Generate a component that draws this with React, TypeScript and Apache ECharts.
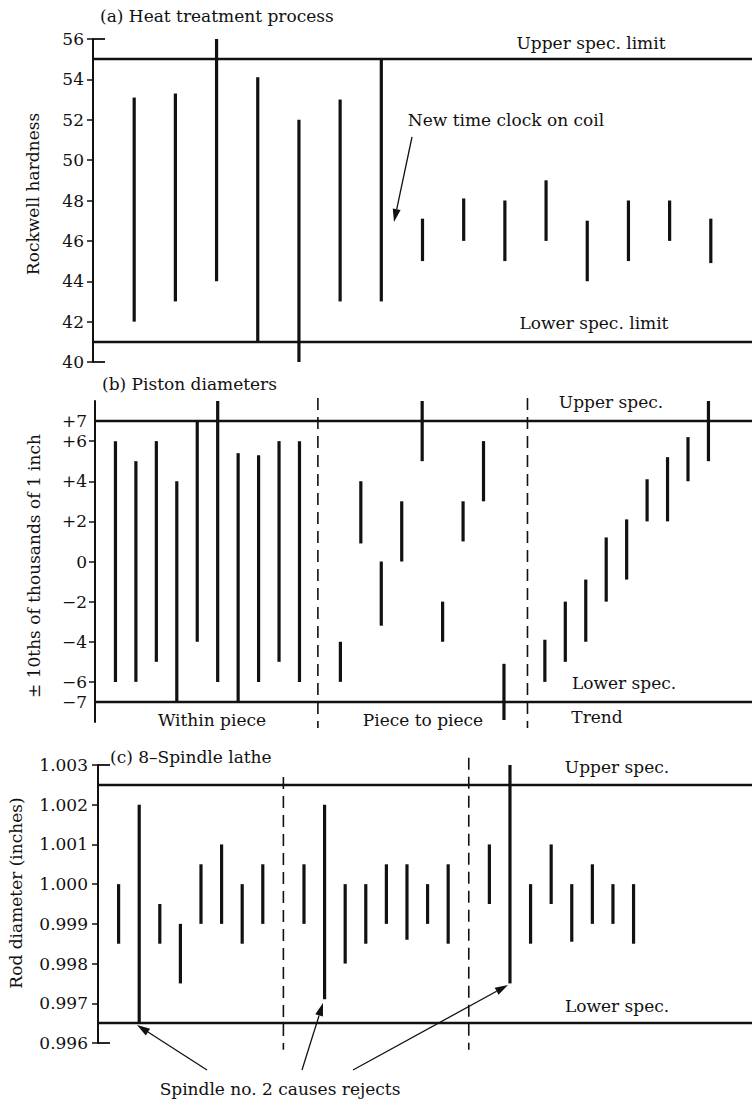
import React, { useEffect, useRef } from 'react';
import * as echarts from 'echarts';

// ---------- data ----------
// (a) Heat treatment process — Rockwell hardness ranges per sample
const heatSamples = [1, 2, 3, 4, 5, 6, 7, 8, 9, 10, 11, 12, 13, 14, 15];
const heatLow = [42, 43, 44, 41, 40, 43, 43, 45, 46, 45, 46, 44, 45, 46, 44.9];
const heatHigh = [53.1, 53.3, 56, 54.1, 52, 53, 55, 47.1, 48.1, 48, 49, 47, 48, 48, 47.1];
const heatSpec = [55, 41];
const heatFrame = [56, 40];

// (b) Piston diameters — ± 10ths of thousands of 1 inch
const pistonSamples = [1, 2, 3, 4, 5, 6, 7, 8, 9, 10, 12, 13, 14, 15, 16, 17, 18, 19, 20, 22, 23, 24, 25, 26, 27, 28, 29, 30];
const pistonLow = [-6, -6, -5, -7, -4, -6, -7, -6, -5, -6, -6, 0.9, -3.2, 0, 5, -4, 1, 3, -7.9, -6, -5, -4, -2, -0.9, 2, 2, 4, 5];
const pistonHigh = [6, 5, 6, 4, 7, 8, 5.4, 5.3, 6, 6, -4, 4, 0, 3, 8, -2, 3, 6, -5.1, -3.9, -2, -0.9, 1.2, 2.1, 4.1, 5.2, 6.2, 8];
const pistonSpec = [7, -7];
const pistonDividers = [10.9, 21.15];
const pistonLabelTicks = [-7, -6, -4, -2, 0, 2, 4, 6, 7];
const pistonTickMarks = [-6, -4, -2, 0, 2, 4, 6];
const pistonSections = ['Within piece', 'Piece to piece', 'Trend'];

// (c) 8-Spindle lathe — rod diameter (inches)
const latheSamples = [1, 2, 3, 4, 5, 6, 7, 8, 10, 11, 12, 13, 14, 15, 16, 17, 19, 20, 21, 22, 23, 24, 25, 26];
const latheLow = [0.9985, 0.9965, 0.9985, 0.9975, 0.999, 0.999, 0.9985, 0.999, 0.999, 0.9971, 0.998, 0.9985, 0.999, 0.9986, 0.999, 0.9985, 0.9995, 0.9975, 0.9985, 0.9995, 0.99855, 0.999, 0.999, 0.9985];
const latheHigh = [1.0, 1.002, 0.9995, 0.999, 1.0005, 1.001, 1.0, 1.0005, 1.0005, 1.002, 1.0, 1.0, 1.0005, 1.0005, 1.0, 1.0005, 1.001, 1.003, 1.0, 1.001, 1.0, 1.0005, 1.0, 1.0];
const latheSpec = [1.0025, 0.9965];
const latheFrame = [1.003, 0.996];
const latheDividers = [9, 18];
const latheTicks = [0.996, 0.997, 0.998, 0.999, 1.0, 1.001, 1.002, 1.003];

// ---------- style ----------
const INK = '#111';
const FONT = 'DejaVu Serif';
const FS = 17;

function rangeSeries(idx: number, xs: number[], lows: number[], highs: number[], specs: number[]) {
  return {
    type: 'custom',
    xAxisIndex: idx,
    yAxisIndex: idx,
    clip: false,
    silent: true,
    data: xs.map((x, i) => [x, lows[i], highs[i]]),
    renderItem: (_p: any, api: any) => {
      const a = api.coord([api.value(0), api.value(1)]);
      const b = api.coord([api.value(0), api.value(2)]);
      return {
        type: 'line',
        shape: { x1: a[0], y1: a[1], x2: b[0], y2: b[1] },
        style: { stroke: INK, lineWidth: 3.2 },
      };
    },
    markLine: {
      silent: true,
      precision: 6,
      symbol: ['none', 'none'],
      label: { show: false },
      lineStyle: { color: INK, width: 2.4, type: 'solid' },
      data: specs.map((v) => ({ yAxis: v })),
    },
  };
}

// short inward "feet" at the ends of the vertical axis
function frameSeries(idx: number, ys: number[]) {
  return {
    type: 'custom',
    xAxisIndex: idx,
    yAxisIndex: idx,
    clip: false,
    silent: true,
    data: ys.map((y) => [0, y]),
    renderItem: (_p: any, api: any) => {
      const a = api.coord([api.value(0), api.value(1)]);
      return {
        type: 'line',
        shape: { x1: a[0], y1: a[1], x2: a[0] + 12, y2: a[1] },
        style: { stroke: INK, lineWidth: 1.8 },
      };
    },
  };
}

function dividerSeries(idx: number, xs: number[], top: number, bottom: number) {
  return {
    type: 'custom',
    xAxisIndex: idx,
    yAxisIndex: idx,
    clip: false,
    silent: true,
    data: xs.map((x) => [x, top, bottom]),
    renderItem: (_p: any, api: any) => {
      const a = api.coord([api.value(0), api.value(1)]);
      const b = api.coord([api.value(0), api.value(2)]);
      return {
        type: 'line',
        shape: { x1: a[0], y1: a[1], x2: b[0], y2: b[1] },
        style: { stroke: INK, lineWidth: 1.6, lineDash: [12, 7] },
      };
    },
  };
}

function yAxisBase(grid: number, min: number, max: number, margin: number) {
  return {
    gridIndex: grid,
    type: 'value',
    min,
    max,
    axisLine: { show: true, onZero: false, lineStyle: { color: INK, width: 2 } },
    axisTick: { show: true, length: 6, lineStyle: { color: INK, width: 1.5 } },
    axisLabel: { color: INK, fontFamily: FONT, fontSize: FS, margin },
    splitLine: { show: false },
  };
}

function txt(text: string, x: number, y: number, align = 'center', rot = 0) {
  return {
    type: 'text',
    x,
    y,
    rotation: rot,
    silent: true,
    style: {
      text,
      x: 0,
      y: 0,
      fill: INK,
      fontFamily: FONT,
      fontSize: FS,
      textAlign: align,
      textVerticalAlign: 'middle',
    },
  };
}

function arrow(x1: number, y1: number, x2: number, y2: number) {
  const head = 13;
  const half = 4;
  const dx = x2 - x1;
  const dy = y2 - y1;
  const L = Math.hypot(dx, dy);
  const ux = dx / L;
  const uy = dy / L;
  const bx = x2 - ux * head;
  const by = y2 - uy * head;
  return [
    { type: 'line', silent: true, shape: { x1, y1, x2: bx, y2: by }, style: { stroke: INK, lineWidth: 1.3 } },
    {
      type: 'polygon',
      silent: true,
      shape: { points: [[x2, y2], [bx - uy * half, by + ux * half], [bx + uy * half, by - ux * half]] },
      style: { fill: INK },
    },
  ];
}

const signed = (v: number) => (v > 0 ? '+' + v : v < 0 ? '\u2212' + Math.abs(v) : '0');

export default function App() {
  const ref = useRef<HTMLDivElement>(null);

  useEffect(() => {
    if (!ref.current) return;
    const chart = echarts.init(ref.current, undefined, { renderer: 'svg' });

    const option: any = {
      animation: false,
      backgroundColor: '#fff',
      grid: [
        { left: 93, top: 39, right: 4, height: 323 },
        { left: 95, top: 401, right: 4, height: 321 },
        { left: 98, top: 765, right: 4, height: 278 },
      ],
      xAxis: [
        { gridIndex: 0, type: 'value', min: 0, max: 16, show: false },
        { gridIndex: 1, type: 'value', min: 0, max: 32.13, show: false },
        { gridIndex: 2, type: 'value', min: 0, max: 31.75, show: false },
      ],
      yAxis: [
        { ...yAxisBase(0, 40, 56, 9), interval: 2 },
        {
          ...yAxisBase(1, -8, 8, 8),
          axisTick: { show: true, length: 6, lineStyle: { color: INK, width: 1.5 }, customValues: pistonTickMarks },
          axisLabel: { color: INK, fontFamily: FONT, fontSize: FS, margin: 8, customValues: pistonLabelTicks, formatter: signed },
        },
        {
          ...yAxisBase(2, 0.996, 1.003, 10),
          axisTick: { show: true, length: 6, lineStyle: { color: INK, width: 1.5 }, customValues: latheTicks },
          axisLabel: {
            color: INK,
            fontFamily: FONT,
            fontSize: FS,
            margin: 10,
            customValues: latheTicks,
            formatter: (v: number) => v.toFixed(3),
          },
        },
      ],
      series: [
        rangeSeries(0, heatSamples, heatLow, heatHigh, heatSpec),
        frameSeries(0, heatFrame),
        rangeSeries(1, pistonSamples, pistonLow, pistonHigh, pistonSpec),
        dividerSeries(1, pistonDividers, 8.15, -8.3),
        rangeSeries(2, latheSamples, latheLow, latheHigh, latheSpec),
        frameSeries(2, latheFrame),
        dividerSeries(2, [latheDividers[0]], 1.0027, 0.99583),
        dividerSeries(2, [latheDividers[1]], 1.00318, 0.99583),
      ],
      graphic: {
        elements: [
          // (a)
          txt('(a) Heat treatment process', 100, 16, 'left'),
          txt('Rockwell hardness', 33, 194, 'center', Math.PI / 2),
          txt('Upper spec. limit', 591, 43),
          txt('Lower spec. limit', 594, 323),
          txt('New time clock on coil', 506, 120),
          ...arrow(412, 137, 394, 222),
          // (b)
          txt('(b) Piston diameters', 102, 384, 'left'),
          txt('\u00b1 10ths of thousands of 1 inch', 34, 566, 'center', Math.PI / 2),
          txt('Upper spec.', 611, 402),
          txt('Lower spec.', 624, 683),
          txt(pistonSections[0], 212, 720),
          txt(pistonSections[1], 423, 720),
          txt(pistonSections[2], 597, 717),
          // (c)
          txt('(c) 8\u2013Spindle lathe', 110, 757, 'left'),
          txt('Rod diameter (inches)', 16, 893, 'center', Math.PI / 2),
          txt('Upper spec.', 617, 767),
          txt('Lower spec.', 617, 1006),
          txt('Spindle no. 2 causes rejects', 280, 1089),
          ...arrow(207, 1070, 137, 1025),
          ...arrow(302, 1070, 323, 1003),
          ...arrow(353, 1070, 508, 985),
        ],
      },
    };

    chart.setOption(option);
    return () => chart.dispose();
  }, []);

  return (
    <div
      ref={ref}
      style={{ position: 'absolute', left: 0, top: 0, width: 756, height: 1102, background: '#fff' }}
    />
  );
}
